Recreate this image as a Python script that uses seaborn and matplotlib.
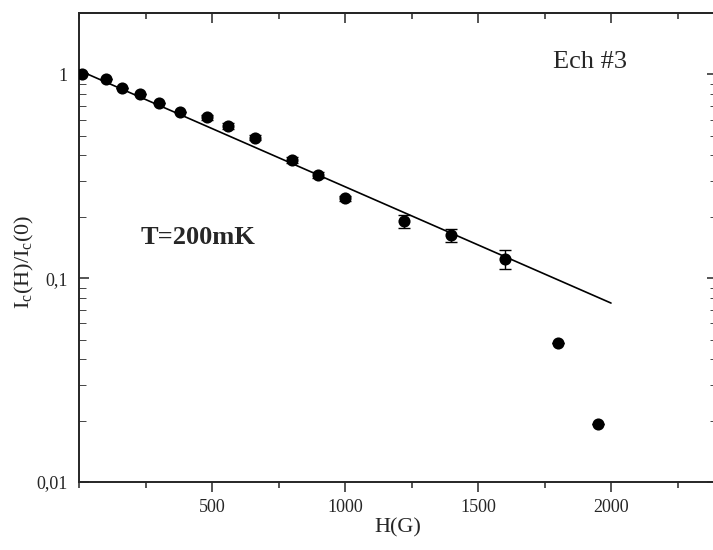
import numpy as np
import pandas as pd
import matplotlib
matplotlib.use("Agg")
import matplotlib.pyplot as plt
import matplotlib.ticker as mticker
import seaborn as sns

# Données : Ic(H)/Ic(0) en fonction de H (G), T=200mK
champ_H = [10, 100, 160, 230, 300, 380, 480, 560, 660, 800, 900, 1000, 1220, 1400, 1600, 1800, 1950]
ic_ratio = [1.0, 0.945, 0.855, 0.80, 0.72, 0.65, 0.615, 0.557, 0.49, 0.38, 0.32, 0.246, 0.191, 0.163, 0.124, 0.048, 0.0192]
# barres d'erreur : seules celles qui dépassent des points sont visibles
ic_err = [0, 0, 0, 0, 0, 0, 0.02, 0.02, 0.016, 0.012, 0.01, 0.008, 0.014, 0.012, 0.013, 0, 0]

# Ajustement exponentiel (extrémités de la droite en échelle log)
fit_H = [0, 2000]
fit_ratio = [1.046, 0.0755]

x_ticks = [500, 1000, 1500, 2000]
y_ticks = [0.01, 0.1, 1]
y_labels = ["0,01", "0,1", "1"]

df = pd.DataFrame({"H": champ_H, "Ic": ic_ratio, "err": ic_err})
fit_df = pd.DataFrame({"H": fit_H, "Ic": fit_ratio})

sns.set_style("ticks")
plt.rcParams["font.family"] = ["Liberation Serif", "DejaVu Serif"]
plt.rcParams["mathtext.fontset"] = "custom"
plt.rcParams["mathtext.rm"] = "Liberation Serif"
plt.rcParams["axes.linewidth"] = 1.4

fig = plt.figure(figsize=(7.13, 5.5), dpi=100)
ax = fig.add_axes([79 / 713, 68 / 550, 638.4 / 713, 469 / 550])

ax.errorbar(df["H"], df["Ic"], yerr=df["err"], fmt="none", ecolor="black",
            elinewidth=1.0, capsize=4, capthick=1.0, zorder=2)
sns.scatterplot(data=df, x="H", y="Ic", color="black", s=76, edgecolor="black",
                linewidth=0, ax=ax, zorder=3)
sns.lineplot(data=fit_df, x="H", y="Ic", color="black", linewidth=1.2, ax=ax, zorder=2)

ax.set_yscale("log")
ax.set_xlim(0, 2400)
ax.set_ylim(0.01, 2)

ax.set_xticks(x_ticks)
ax.set_xticklabels([str(v) for v in x_ticks])
ax.xaxis.set_minor_locator(mticker.MultipleLocator(250))
ax.set_yticks(y_ticks)
ax.set_yticklabels(y_labels)
ax.yaxis.set_minor_locator(mticker.LogLocator(base=10, subs=np.arange(2, 10)))
ax.yaxis.set_minor_formatter(mticker.NullFormatter())

ax.tick_params(axis="x", which="major", direction="out", length=7.2, width=1.1,
               labelsize=13, pad=5, top=False)
ax.tick_params(axis="x", which="minor", direction="out", length=4.5, width=1.1, top=False)
ax.tick_params(axis="y", which="major", direction="in", length=7.2, width=1.1,
               labelsize=13, pad=8, right=True)
ax.tick_params(axis="y", which="minor", direction="in", length=5, width=0.6, right=True)
# le bord droit du cadre tombe juste hors de l'image
ax.spines["right"].set_visible(False)

top = ax.secondary_xaxis("top")
top.set_xticks(x_ticks)
top.xaxis.set_minor_locator(mticker.MultipleLocator(250))
top.tick_params(which="major", direction="in", length=7.2, width=1.1, labeltop=False)
top.tick_params(which="minor", direction="in", length=4.5, width=1.1)
top.spines["top"].set_linewidth(1.4)

ax.set_xlabel("H(G)", fontsize=16, labelpad=2)
ax.set_ylabel(r"I$_\mathrm{c}$(H)/I$_\mathrm{c}$(0)", fontsize=16, va="center")
ax.yaxis.set_label_coords(-0.085, 0.47)

ax.text(0.80, 0.895, "Ech #3", transform=ax.transAxes, fontsize=19,
        ha="center", va="center")
ax.text(0.186, 0.522, "T=200mK", transform=ax.transAxes, fontsize=19,
        fontweight="bold", ha="center", va="center")

fig.savefig("out.png", dpi=100)
